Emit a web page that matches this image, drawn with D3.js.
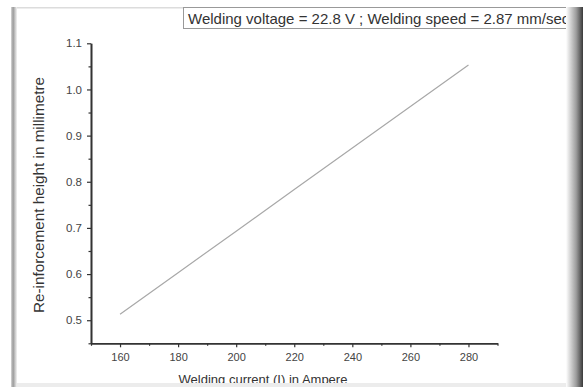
<!DOCTYPE html>
<html>
<head>
<meta charset="utf-8">
<script src="https://cdn.jsdelivr.net/npm/d3@7"></script>
<style>
  html, body { margin: 0; padding: 0; background: #fff; }
  svg { display: block; }
  text { font-family: "Liberation Sans", Arial, sans-serif; }
</style>
</head>
<body>
<svg id="chart" width="586" height="387"></svg>
<script>
// Re-inforcement height vs welding current
const currentA = [160, 180, 200, 220, 240, 260, 280];
const heightMm = [0.513, 0.603, 0.693, 0.783, 0.873, 0.963, 1.053];
const xTicks = [160, 180, 200, 220, 240, 260, 280];
const yTicks = [0.5, 0.6, 0.7, 0.8, 0.9, 1.0, 1.1];
const titleText = "Welding voltage = 22.8 V ; Welding speed = 2.87 mm/sec";
const xLabel = "Welding current (I) in Ampere";
const yLabel = "Re-inforcement height in millimetre";

const svg = d3.select("#chart");
const W = 586, H = 387;

// panel frame with soft shadowed edges
const defs = svg.append("defs");
const gl = defs.append("linearGradient").attr("id", "leftEdge");
gl.append("stop").attr("offset", "0%").attr("stop-color", "#d8d8d8");
gl.append("stop").attr("offset", "35%").attr("stop-color", "#9a9a9a");
gl.append("stop").attr("offset", "100%").attr("stop-color", "#f4f4f4");
const gr = defs.append("linearGradient").attr("id", "rightEdge");
gr.append("stop").attr("offset", "0%").attr("stop-color", "#ffffff");
gr.append("stop").attr("offset", "60%").attr("stop-color", "#9c9c9c");
gr.append("stop").attr("offset", "100%").attr("stop-color", "#3a3a3a");

svg.append("rect").attr("x", 12).attr("y", 7).attr("width", 570).attr("height", 1.5).attr("fill", "#dcdcdc");
svg.append("rect").attr("x", 11).attr("y", 7).attr("width", 6).attr("height", H - 7).attr("fill", "url(#leftEdge)");

// plot area
const x = d3.scaleLinear().domain([150, 290]).range([91, 497.5]);
const y = d3.scaleLinear().domain([0.45, 1.1]).range([343.3, 43.3]);

const axisColor = "#333";

// x axis
const gx = svg.append("g").attr("transform", `translate(0,${y(0.45)})`);
gx.call(d3.axisBottom(x).tickValues(xTicks).tickSize(4).tickSizeOuter(0).tickPadding(6).tickFormat(d3.format("d")));
gx.append("g").call(d3.axisBottom(x).tickValues(d3.range(150, 291, 20)).tickSize(2.5).tickSizeOuter(0).tickFormat(""));
gx.selectAll("path.domain").attr("stroke", axisColor).attr("stroke-width", 1.6);
gx.selectAll(".tick line").attr("stroke", axisColor).attr("stroke-width", 1.2);
gx.selectAll(".tick text").attr("fill", "#444").style("font-size", "11px");

// y axis
const gy = svg.append("g").attr("transform", `translate(${x(150)},0)`);
gy.call(d3.axisLeft(y).tickValues(yTicks).tickSize(4).tickSizeOuter(0).tickPadding(5).tickFormat(d3.format(".1f")));
gy.append("g").call(d3.axisLeft(y).tickValues(d3.range(0.45, 1.1, 0.1)).tickSize(2.5).tickSizeOuter(0).tickFormat(""));
gy.selectAll("path.domain").attr("stroke", axisColor).attr("stroke-width", 1.6);
gy.selectAll(".tick line").attr("stroke", axisColor).attr("stroke-width", 1.2);
gy.selectAll(".tick text").attr("fill", "#444").style("font-size", "11.5px");

// data line
svg.append("path")
  .datum(currentA.map((c, i) => [c, heightMm[i]]))
  .attr("fill", "none")
  .attr("stroke", "#a8a8a8")
  .attr("stroke-width", 1.2)
  .attr("d", d3.line().x(d => x(d[0])).y(d => y(d[1])));

// axis titles
svg.append("text")
  .attr("x", 263).attr("y", 383.5)
  .attr("text-anchor", "middle")
  .attr("fill", "#333")
  .style("font-size", "13px")
  .text(xLabel);

svg.append("text")
  .attr("transform", "translate(43.5,195) rotate(-90)")
  .attr("text-anchor", "middle")
  .attr("fill", "#333")
  .attr("textLength", 236)
  .attr("lengthAdjust", "spacingAndGlyphs")
  .style("font-size", "14px")
  .text(yLabel);

// bottom edge of the panel
svg.append("rect").attr("x", 17).attr("y", 383).attr("width", 552).attr("height", 4).attr("fill", "#ececec");

// condition box at the top
svg.append("rect")
  .attr("x", 183.5).attr("y", 7.5).attr("width", 400).attr("height", 21)
  .attr("fill", "#fff").attr("stroke", "#999").attr("stroke-width", 1);
svg.append("text")
  .attr("x", 188).attr("y", 23.5)
  .attr("fill", "#333")
  .style("font-size", "15px")
  .text(titleText);

// right shadow edge drawn last so it overlaps the box
svg.append("rect").attr("x", 566).attr("y", 7).attr("width", 17).attr("height", H - 7).attr("fill", "url(#rightEdge)");
svg.append("rect").attr("x", 583).attr("y", 7).attr("width", 3).attr("height", H - 7).attr("fill", "#fff");
</script>
</body>
</html>
